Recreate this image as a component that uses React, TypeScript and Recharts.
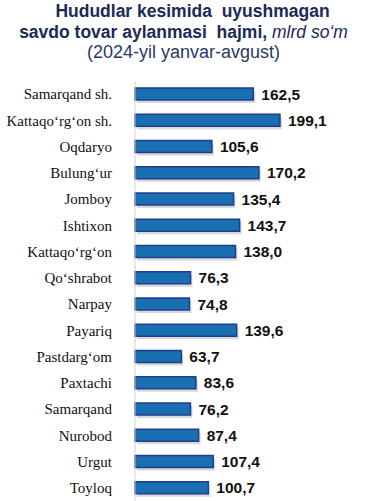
import React from 'react';
import { BarChart, Bar, XAxis, YAxis, LabelList } from 'recharts';

const regions = [
  'Samarqand sh.',
  'Kattaqo‘rg‘on sh.',
  'Oqdaryo',
  'Bulung‘ur',
  'Jomboy',
  'Ishtixon',
  'Kattaqo‘rg‘on',
  'Qo‘shrabot',
  'Narpay',
  'Payariq',
  'Pastdarg‘om',
  'Paxtachi',
  'Samarqand',
  'Nurobod',
  'Urgut',
  'Toyloq',
];

const turnover = [162.5, 199.1, 105.6, 170.2, 135.4, 143.7, 138.0, 76.3, 74.8, 139.6, 63.7, 83.6, 76.2, 87.4, 107.4, 100.7];

const data = regions.map((name, i) => ({ name, value: turnover[i] }));

const fmt = (v: number) => v.toFixed(1).replace('.', ',');

const ShadowBar = (props: any) => {
  const { x, y, width, height } = props;
  return (
    <g>
      <rect x={x + 2} y={y + 3} width={width} height={height} fill="#c8c8c8" opacity={0.7} />
      <rect x={x} y={y} width={width} height={height} fill="#1a6fb0" stroke="#1d3f8e" strokeWidth={1.5} />
    </g>
  );
};

export default function App() {
  return (
    <div style={{ position: 'absolute', left: 0, top: 0, width: 367, height: 501, background: '#fff', overflow: 'hidden' }}>
      <div style={{ position: 'absolute', top: 1, left: 0, width: 367, textAlign: 'center', fontFamily: 'Arial, "Liberation Sans", sans-serif' }}>
        <div style={{ fontWeight: 'bold', fontSize: 17.5, color: '#1b2a57', lineHeight: '21px', marginLeft: 18 }}>
          Hududlar kesimida&nbsp; uyushmagan
        </div>
        <div style={{ fontWeight: 'bold', fontSize: 17.5, color: '#1b2a57', lineHeight: '21px', whiteSpace: 'nowrap' }}>
          savdo tovar aylanmasi&nbsp; hajmi, <span style={{ fontWeight: 'normal', fontStyle: 'italic' }}>mlrd so‘m</span>
        </div>
        <div style={{ fontSize: 18, color: '#2a3868', lineHeight: '18px' }}>(2024-yil yanvar-avgust)</div>
      </div>
      <div style={{ position: 'absolute', top: 80, left: 0 }}>
        <BarChart
          width={367}
          height={421}
          data={data}
          layout="vertical"
          margin={{ top: 1, right: 50, bottom: 0, left: 0 }}
          barSize={12}
        >
          <XAxis type="number" domain={[0, 250]} hide />
          <YAxis
            type="category"
            dataKey="name"
            width={135}
            axisLine={{ stroke: '#d0d0d0' }}
            tickLine={false}
            interval={0}
            tickMargin={17}
            tick={{ fontFamily: '"Liberation Serif", "Times New Roman", serif', fontSize: 15, fill: '#111' }}
          />
          <Bar dataKey="value" shape={<ShadowBar />} isAnimationActive={false}>
            <LabelList
              dataKey="value"
              position="right"
              offset={8}
              formatter={(v: any) => fmt(Number(v))}
              style={{ fontFamily: 'Arial, "Liberation Sans", sans-serif', fontWeight: 'bold', fontSize: 15.5, fill: '#111' }}
            />
          </Bar>
        </BarChart>
      </div>
    </div>
  );
}
